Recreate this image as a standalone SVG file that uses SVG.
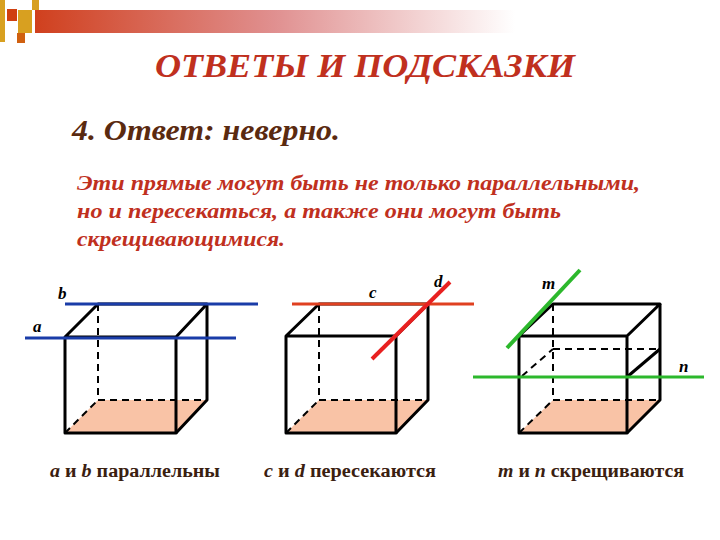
<svg xmlns="http://www.w3.org/2000/svg" width="720" height="540" viewBox="0 0 720 540">
<defs>
<linearGradient id="bar" x1="0" x2="1" y1="0" y2="0">
<stop offset="0" stop-color="#D0401E"/><stop offset="0.5" stop-color="#E09090"/><stop offset="1" stop-color="#FFFFFF"/>
</linearGradient>
<style>
.e{stroke:#000;stroke-width:3;fill:none;stroke-linejoin:round}
.h{stroke:#000;stroke-width:2;fill:none;stroke-dasharray:7,5}
.f{fill:#F9C3A6;stroke:none}
.lab{font-family:"Liberation Serif",serif;font-style:italic;font-weight:bold;font-size:17px;fill:#000}
.cap{font-family:"Liberation Serif",serif;font-weight:bold;font-size:18px;fill:#3A2010}
</style>
</defs>
<rect width="720" height="540" fill="#fff"/>
<g id="decor">
<rect x="35" y="10" width="480" height="23" fill="url(#bar)"/>
<rect x="0" y="0" width="5" height="42" fill="#D8A020"/>
<rect x="7" y="9" width="10" height="12" fill="#D04010"/>
<rect x="18" y="10" width="14" height="23" fill="#D8A020"/>
<rect x="32" y="0" width="7" height="10" fill="#D8A020"/>
<rect x="17" y="33" width="8" height="10" fill="#D06010"/>
</g>
<g id="title">
<text x="155" y="77" textLength="420" lengthAdjust="spacingAndGlyphs" font-family="Liberation Serif,serif" font-style="italic" font-weight="bold" font-size="34" fill="#C0301E">ОТВЕТЫ И ПОДСКАЗКИ</text>
<text x="72" y="140" textLength="268" lengthAdjust="spacingAndGlyphs" font-family="Liberation Serif,serif" font-style="italic" font-weight="bold" font-size="29" fill="#5A2A10">4. Ответ: неверно.</text>
<g font-family="Liberation Serif,serif" font-style="italic" font-weight="bold" font-size="21" fill="#C0301E" lengthAdjust="spacingAndGlyphs">
<text x="77" y="190" textLength="563" lengthAdjust="spacingAndGlyphs">Эти прямые могут быть не только параллельными,</text>
<text x="77" y="218" textLength="484" lengthAdjust="spacingAndGlyphs">но и пересекаться, а также они могут быть</text>
<text x="77" y="246" textLength="208" lengthAdjust="spacingAndGlyphs">скрещивающимися.</text>
</g>
</g>
<g id="cube1">
<polygon class="f" points="65,433 176,433 207,400 98,400"/>
<line class="h" x1="98" y1="304" x2="98" y2="400"/>
<line class="h" x1="98" y1="400" x2="207" y2="400"/>
<line class="h" x1="65" y1="433" x2="98" y2="400"/>
<polyline class="e" points="65,337 98,304 207,304 176,337 65,337 65,433 176,433 176,337"/>
<polyline class="e" points="207,304 207,400 176,433"/>
<line x1="65" y1="304" x2="258" y2="304" stroke="#1A3CA8" stroke-width="3"/>
<line x1="25" y1="338" x2="236" y2="338" stroke="#1A3CA8" stroke-width="3"/>
<text class="lab" x="58" y="299">b</text>
<text class="lab" x="33" y="332">a</text>
<text class="cap" x="50" y="477" textLength="170" lengthAdjust="spacingAndGlyphs"><tspan font-style="italic">a</tspan> и <tspan font-style="italic">b</tspan> параллельны</text>
</g>
<g id="cube2">
<polygon class="f" points="286,433 396,433 428,400 319,400"/>
<line class="h" x1="319" y1="304" x2="319" y2="400"/>
<line class="h" x1="319" y1="400" x2="428" y2="400"/>
<line class="h" x1="286" y1="433" x2="319" y2="400"/>
<polyline class="e" points="286,336 319,304 428,304 396,336 286,336 286,433 396,433 396,336"/>
<polyline class="e" points="428,304 428,400 396,433"/>
<line x1="292" y1="304" x2="474" y2="304" stroke="#E04020" stroke-width="3"/>
<line x1="372" y1="359" x2="450" y2="282" stroke="#E82020" stroke-width="4"/>
<text class="lab" x="369" y="298">c</text>
<text class="lab" x="434" y="287">d</text>
<text class="cap" x="264" y="477" textLength="172" lengthAdjust="spacingAndGlyphs"><tspan font-style="italic">c</tspan> и <tspan font-style="italic">d</tspan> пересекаются</text>
</g>
<g id="cube3">
<polygon class="f" points="519,433 627,433 660,400 553,400"/>
<line class="h" x1="553" y1="304" x2="553" y2="400"/>
<line class="h" x1="553" y1="400" x2="660" y2="400"/>
<line class="h" x1="519" y1="433" x2="553" y2="400"/>
<line class="h" x1="553" y1="349" x2="660" y2="349"/>
<line class="h" x1="522" y1="376" x2="553" y2="349"/>
<line class="e" x1="627" y1="377" x2="660" y2="349"/>
<polyline class="e" points="519,336 553,304 660,304 627,336 519,336 519,433 627,433 627,336"/>
<polyline class="e" points="660,304 660,400 627,433"/>
<line x1="473" y1="377" x2="704" y2="377" stroke="#2CB82C" stroke-width="3"/>
<line x1="507" y1="348" x2="580" y2="270" stroke="#2CB82C" stroke-width="4"/>
<text class="lab" x="542" y="289">m</text>
<text class="lab" x="679" y="372">n</text>
<text class="cap" x="498" y="477" textLength="186" lengthAdjust="spacingAndGlyphs"><tspan font-style="italic">m</tspan> и <tspan font-style="italic">n</tspan> скрещиваются</text>
</g>
</svg>
